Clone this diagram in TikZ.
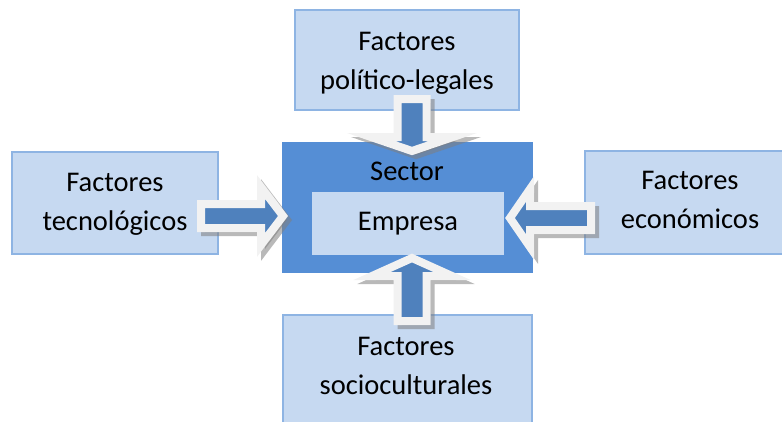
\documentclass[tikz,border=0pt]{standalone}
\usepackage{fontspec}
\setmainfont{Carlito}
\definecolor{boxfill}{HTML}{C6D9F1}
\definecolor{boxline}{HTML}{8EB4E3}
\definecolor{sectorfill}{HTML}{558ED5}
\definecolor{arrblue}{HTML}{4F81BD}
\definecolor{arrwhite}{HTML}{F2F2F2}
\definecolor{shadowgray}{HTML}{7F7F7F}
\tikzset{
  fbox/.style={draw=boxline, line width=1.3pt, fill=boxfill, inner sep=0pt},
  ftext/.style={align=center, inner sep=0pt, font=\fontsize{28.5}{39}\selectfont},
  arrbody/.style={fill=arrblue, draw=arrwhite, line width=8pt, miter limit=10},
  arrshadow/.style={fill=shadowgray, draw=shadowgray, line width=8pt, opacity=0.55},
  pics/barrow/.style args={#1/#2/#3/#4}{code={
    \path[pic actions] (0,-#2) -- ({#1-#4},-#2) -- ({#1-#4},-#3) -- (#1,0)
      -- ({#1-#4},#3) -- ({#1-#4},#2) -- (0,#2) -- cycle;}}
}
\begin{document}
\begin{tikzpicture}[x=1pt,y=-1pt]
\useasboundingbox (0,0) rectangle (782,421);
% boxes
\node[fbox, minimum width=206pt, minimum height=102pt] (tec) at (115,203) {};
\node[fbox, minimum width=224pt, minimum height=100pt] (pol) at (407,60) {};
\node[fbox, minimum width=210pt, minimum height=103pt] (eco) at (690,202.5) {};
\node[fbox, minimum width=249pt, minimum height=115pt] (soc) at (407.5,372.5) {};
\node[draw=sectorfill, fill=sectorfill, minimum width=250pt, minimum height=130pt, inner sep=0pt] (sector) at (407,207) {};
\node[fill=boxfill, minimum width=192pt, minimum height=63pt, inner sep=0pt] (emp) at (408,223.5) {};
% texts
\node[ftext] (tecT) at (115,204) {Factores\\tecnológicos};
\node[ftext] (polT) at (407,63) {Factores\\político-legales};
\node[ftext] (ecoT) at (690,199.5) {Factores\\económicos};
\node[ftext] (socT) at (406,366) {Factores\\socioculturales};
\node[ftext, anchor=base] (secT) at (407,180) {Sector};
\node[ftext, anchor=base] (empT) at (408,230) {Empresa};
% arrow anchors
\coordinate (aL) at (201,216);
\coordinate (aR) at (591,218);
\coordinate (aT) at (412,99);
\coordinate (aB) at (412,321);
% shadows
\pic[arrshadow, shift={(4,4)}] at (aL) {barrow=82/12/29/22};
\pic[arrshadow, shift={(4,4)}, rotate=180] at (aR) {barrow=81/12/29/20};
\pic[arrshadow, shift={(4,4)}, rotate=-90] at (aT) {barrow=52/14.5/41/14};
\pic[arrshadow, shift={(4,4)}, rotate=90] at (aB) {barrow=63/14.5/40/18};
% arrows
\pic[arrbody] at (aL) {barrow=82/12/29/22};
\pic[arrbody, rotate=180] at (aR) {barrow=81/12/29/20};
\pic[arrbody, rotate=-90] at (aT) {barrow=52/14.5/41/14};
\pic[arrbody, rotate=90] at (aB) {barrow=63/14.5/40/18};
\end{tikzpicture}
\end{document}
